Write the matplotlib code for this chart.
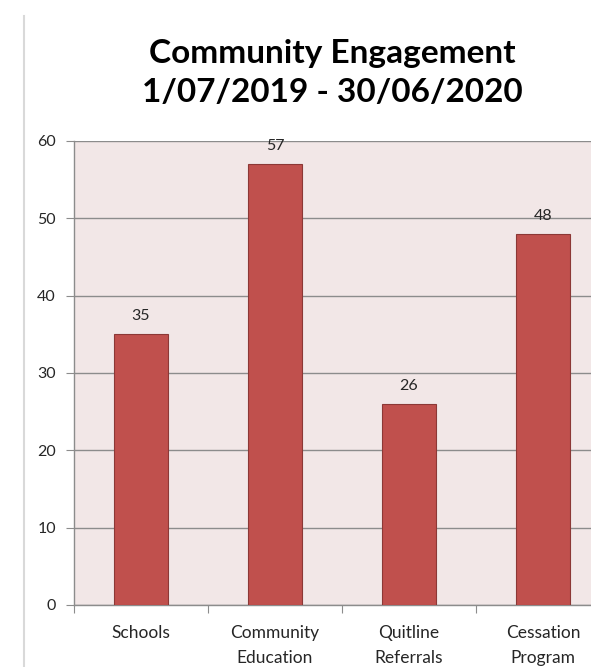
import matplotlib
matplotlib.use("Agg")
import matplotlib.pyplot as plt
from matplotlib.lines import Line2D

categories = ["Schools", "Community\nEducation", "Quitline\nReferrals", "Cessation\nProgram"]
values = [35, 57, 26, 48]
y_ticks = [0, 10, 20, 30, 40, 50, 60]

BAR_COLOR = "#C0504D"
EDGE_COLOR = "#8C3836"
BG_COLOR = "#F2E7E7"
GRID_COLOR = "#8C8C8C"
TEXT_COLOR = "#262626"

plt.rcParams["font.family"] = ["Lato", "DejaVu Sans"]

fig = plt.figure(figsize=(5.91, 6.67), dpi=100)
ax = fig.add_axes([74 / 591, 62 / 667, 536 / 591, 464 / 667])
ax.set_facecolor(BG_COLOR)

x = list(range(len(categories)))
ax.bar(x, values, width=0.41, color=BAR_COLOR, edgecolor=EDGE_COLOR, linewidth=0.8, zorder=3)
for xi, v in zip(x, values):
    ax.annotate(str(v), (xi, v), xytext=(0, 8), textcoords="offset points",
                ha="center", va="bottom", fontsize=11.5, color=TEXT_COLOR)

ax.set_xlim(-0.5, len(categories) - 0.5)
ax.set_ylim(0, 60)
ax.set_yticks(y_ticks)
ax.set_yticklabels([str(t) for t in y_ticks], fontsize=11.5, color=TEXT_COLOR)
ax.yaxis.grid(True, color=GRID_COLOR, linewidth=1.0, zorder=1)
ax.tick_params(axis="y", length=6, color=GRID_COLOR, pad=7)

# category labels centred, ticks at the boundaries
ax.set_xticks([i + 0.5 for i in range(-1, len(categories) - 1)])
ax.set_xticklabels([""] * len(categories))
ax.tick_params(axis="x", length=6, color=GRID_COLOR)
for xi, lab in zip(x, categories):
    ax.text(xi, -2.6, lab, ha="center", va="top", fontsize=12.5, color=TEXT_COLOR,
            linespacing=1.65, transform=ax.transData)

for side in ["top", "right"]:
    ax.spines[side].set_visible(False)
ax.spines["left"].set_color(GRID_COLOR)
ax.spines["bottom"].set_color(GRID_COLOR)
ax.spines["left"].set_linewidth(1.0)
ax.spines["bottom"].set_linewidth(1.0)

fig.text(332 / 591, 1 - 73 / 667, "Community Engagement\n1/07/2019 - 30/06/2020",
         ha="center", va="center", fontsize=24, fontweight="bold",
         color="#000000", linespacing=1.38)

fig.add_artist(Line2D([24 / 591, 24 / 591], [0, 1 - 16 / 667], transform=fig.transFigure,
                      color="#D9D9D9", linewidth=1.5))

fig.savefig("out.png", dpi=100)
